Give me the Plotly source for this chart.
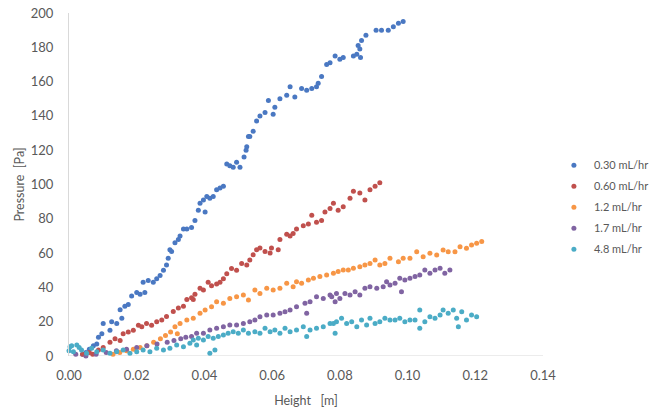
import plotly.graph_objects as go

series_names = ["0.30 mL/hr", "0.60 mL/hr", "1.2 mL/hr", "1.7 mL/hr", "4.8 mL/hr"]
series_colors = ["#4A78C2", "#C0504D", "#F79646", "#8064A2", "#4BACC6"]

x_030 = [0.0040, 0.0050, 0.0060, 0.0072, 0.0082, 0.0087, 0.0097, 0.0101, 0.0121, 0.0126, 0.0141, 0.0151,
         0.0156, 0.0165, 0.0175, 0.0185, 0.0200, 0.0210, 0.0219, 0.0224, 0.0234, 0.0249, 0.0259, 0.0269,
         0.0279, 0.0288, 0.0293, 0.0298, 0.0303, 0.0313, 0.0323, 0.0328, 0.0338, 0.0348, 0.0362, 0.0372,
         0.0382, 0.0387, 0.0397, 0.0402, 0.0407, 0.0416, 0.0426, 0.0436, 0.0446, 0.0456, 0.0466, 0.0475,
         0.0485, 0.0495, 0.0505, 0.0517, 0.0523, 0.0525, 0.0530, 0.0534, 0.0544, 0.0554, 0.0564, 0.0579,
         0.0589, 0.0603, 0.0608, 0.0623, 0.0643, 0.0653, 0.0667, 0.0687, 0.0702, 0.0717, 0.0731, 0.0736,
         0.0746, 0.0761, 0.0771, 0.0786, 0.0800, 0.0810, 0.0840, 0.0850, 0.0854, 0.0859, 0.0861, 0.0864,
         0.0877, 0.0907, 0.0923, 0.0943, 0.0958, 0.0973, 0.0987]
y_030 = [1, 2, 4, 6, 7, 11, 13, 19, 15, 20, 19, 27,
         22, 29, 30, 35, 37, 36, 43, 37, 44, 43, 45, 47,
         50, 53, 57, 62, 61, 66, 68, 70, 74, 74, 75, 79,
         85, 89, 91, 84, 93, 92, 93, 97, 98, 99, 112, 111,
         110, 113, 110, 116, 120, 122, 128, 128, 131, 137, 140, 142,
         149, 141, 145, 150, 152, 157, 151, 156, 155, 156, 157, 159,
         163, 170, 171, 175, 173, 174, 175, 176, 181, 179, 174, 184,
         187, 190, 190, 190, 192, 194, 195]

x_060 = [0.0040, 0.0060, 0.0070, 0.0087, 0.0101, 0.0121, 0.0136, 0.0151, 0.0160, 0.0175, 0.0190, 0.0205,
         0.0215, 0.0229, 0.0244, 0.0259, 0.0274, 0.0288, 0.0308, 0.0323, 0.0338, 0.0348, 0.0362, 0.0367,
         0.0372, 0.0387, 0.0397, 0.0411, 0.0421, 0.0436, 0.0446, 0.0456, 0.0466, 0.0480, 0.0495, 0.0510,
         0.0525, 0.0534, 0.0544, 0.0554, 0.0564, 0.0579, 0.0594, 0.0598, 0.0618, 0.0623, 0.0643, 0.0653,
         0.0662, 0.0672, 0.0692, 0.0707, 0.0717, 0.0731, 0.0746, 0.0756, 0.0771, 0.0781, 0.0795, 0.0810,
         0.0830, 0.0840, 0.0859, 0.0874, 0.0889, 0.0904, 0.0918]
y_060 = [1, 2, 1, 3.5, 5, 8, 10, 9, 13, 14, 15, 18,
         17, 19, 18, 20, 21, 23, 26, 28, 29, 33, 34, 33,
         36, 39.5, 38.5, 43, 41, 42, 43, 45, 48, 51, 50, 54,
         53, 56, 59, 62, 63, 61, 60, 63, 62, 68, 71, 70,
         71.5, 74, 76, 77, 82, 78, 79, 84, 86, 89, 85, 87,
         92, 96, 95, 91, 97, 99, 101]

x_12 = [0.0130, 0.0150, 0.0170, 0.0190, 0.0210, 0.0230, 0.0250, 0.0270, 0.0285, 0.0300, 0.0313, 0.0320,
        0.0328, 0.0348, 0.0367, 0.0387, 0.0402, 0.0421, 0.0436, 0.0456, 0.0475, 0.0495, 0.0515, 0.0530,
        0.0549, 0.0564, 0.0584, 0.0603, 0.0623, 0.0643, 0.0662, 0.0672, 0.0687, 0.0707, 0.0722, 0.0741,
        0.0761, 0.0781, 0.0795, 0.0810, 0.0825, 0.0840, 0.0859, 0.0874, 0.0889, 0.0904, 0.0918, 0.0933,
        0.0948, 0.0973, 0.0987, 0.1007, 0.1027, 0.1046, 0.1066, 0.1086, 0.1105, 0.1120, 0.1140, 0.1155,
        0.1174, 0.1189, 0.1204, 0.1219]
y_12 = [1, 2, 3, 4, 5, 6, 8, 10, 12, 14, 17, 13,
        19, 21, 22, 24.9, 26.8, 28.7, 31.7, 30.7, 33.6, 34.6, 35.6, 32.7,
        38.5, 36.5, 39.5, 38.5, 39.5, 42.4, 40.4, 43.3, 42.4, 44.3, 45.3, 46.3,
        47.2, 48.2, 49.2, 50.1, 50.1, 51.1, 52.1, 53.1, 54, 56, 53.1, 54,
        57, 55, 57, 57, 60.8, 57.9, 59.9, 58.9, 61.8, 60.8, 60.8, 63.7,
        62.8, 64.7, 65.7, 66.7]

x_17 = [0.0020, 0.0050, 0.0080, 0.0110, 0.0140, 0.0170, 0.0200, 0.0230, 0.0260, 0.0290, 0.0310, 0.0330,
        0.0345, 0.0362, 0.0377, 0.0397, 0.0416, 0.0436, 0.0456, 0.0475, 0.0495, 0.0515, 0.0534, 0.0549,
        0.0564, 0.0584, 0.0603, 0.0623, 0.0638, 0.0653, 0.0672, 0.0697, 0.0702, 0.0712, 0.0731, 0.0751,
        0.0771, 0.0776, 0.0786, 0.0790, 0.0800, 0.0815, 0.0830, 0.0845, 0.0859, 0.0874, 0.0889, 0.0909,
        0.0928, 0.0938, 0.0948, 0.0963, 0.0977, 0.0982, 0.0992, 0.1007, 0.1022, 0.1036, 0.1051, 0.1066,
        0.1081, 0.1096, 0.1110, 0.1125]
y_17 = [1, 0, 1, 2, 3, 4, 5, 6, 7, 8, 9, 10,
        11, 11.3, 13.2, 13.2, 15.2, 16.2, 17.1, 18.1, 18.1, 19, 20, 21,
        22.9, 23.9, 23.9, 24.9, 25.8, 26.8, 28.7, 30.7, 24.9, 31.7, 34.6, 33.6,
        35.6, 34.6, 31.7, 36.5, 33.6, 36.5, 35.6, 37.5, 35.6, 39.5, 40.4, 39.5,
        40.4, 43.3, 41.4, 42.4, 45.3, 37.5, 44.3, 45.3, 46.3, 47.2, 50.1, 48.2,
        50.1, 51.1, 48.2, 50.1]

x_48 = [0.0000, 0.0003, 0.0008, 0.0013, 0.0023, 0.0030, 0.0037, 0.0052, 0.0067, 0.0082, 0.0101, 0.0121,
        0.0141, 0.0160, 0.0180, 0.0200, 0.0219, 0.0239, 0.0259, 0.0279, 0.0298, 0.0318, 0.0338, 0.0357,
        0.0367, 0.0377, 0.0382, 0.0397, 0.0411, 0.0416, 0.0426, 0.0431, 0.0441, 0.0456, 0.0470, 0.0485,
        0.0500, 0.0515, 0.0530, 0.0549, 0.0564, 0.0579, 0.0594, 0.0608, 0.0623, 0.0638, 0.0653, 0.0672,
        0.0692, 0.0702, 0.0712, 0.0731, 0.0751, 0.0771, 0.0781, 0.0786, 0.0790, 0.0805, 0.0820, 0.0835,
        0.0850, 0.0864, 0.0879, 0.0889, 0.0904, 0.0918, 0.0933, 0.0948, 0.0963, 0.0977, 0.0992, 0.1007,
        0.1022, 0.1036, 0.1036, 0.1051, 0.1066, 0.1081, 0.1096, 0.1105, 0.1120, 0.1135, 0.1145, 0.1150,
        0.1160, 0.1174, 0.1189, 0.1204]
y_48 = [3, 5.4, 6, 2.5, 6.4, 5, 3.5, 1.6, 4.5, 2.5, 3.5, 1.6,
        2.5, 3.5, 1.6, 2.5, 3.5, 2.5, 4.5, 3.5, 4.5, 6.4, 5.4, 7.4,
        9.3, 6.4, 10.3, 9.3, 11.3, 1.6, 10.3, 3.5, 11.3, 12.2, 13.2, 14.2,
        13.2, 15.2, 13.2, 14.2, 13.2, 16.2, 14.2, 15.2, 13.2, 16.2, 14.2, 15.2,
        17.1, 11.3, 15.2, 16.2, 17.1, 19, 19, 13.2, 20, 22, 19, 20,
        17.1, 21, 18.1, 22, 19, 20, 22, 21, 21, 22, 20, 21,
        21, 16.2, 26.8, 20, 22.9, 22, 23.9, 26.8, 24.9, 26.8, 22, 17.1,
        25.8, 21, 23.9, 22.9]

xs = [x_030, x_060, x_12, x_17, x_48]
ys = [y_030, y_060, y_12, y_17, y_48]

x_ticks = [0.00, 0.02, 0.04, 0.06, 0.08, 0.10, 0.12, 0.14]
x_tick_labels = ["0.00", "0.02", "0.04", "0.06", "0.08", "0.10", "0.12", "0.14"]
y_ticks = [0, 20, 40, 60, 80, 100, 120, 140, 160, 180, 200]

fig = go.Figure()
for i, name in enumerate(series_names):
    fig.add_trace(go.Scatter(
        x=xs[i], y=ys[i], mode="markers", name=name,
        marker=dict(size=5, color=series_colors[i]),
        cliponaxis=False, legendgroup=name,
    ))

font_family = "Lato, 'Open Sans', sans-serif"
fig.update_layout(
    width=652, height=412,
    margin=dict(l=69, r=109, t=13, b=56, autoexpand=False),
    paper_bgcolor="white", plot_bgcolor="white",
    font=dict(family=font_family, color="#595959", size=12),
    showlegend=True,
    legend=dict(x=1.023, y=0.434, xanchor="left", yanchor="middle",
                font=dict(size=11, color="#595959"), itemwidth=30,
                tracegroupgap=2, bgcolor="rgba(0,0,0,0)"),
)
fig.update_xaxes(
    range=[0, 0.14], tickvals=x_ticks, ticktext=x_tick_labels,
    showgrid=False, zeroline=False, showline=False, automargin=False,
    ticks="", ticklabelstandoff=10, tickfont=dict(size=13, color="#595959"),
    title=dict(text="Height\u00a0\u00a0\u00a0[m]", font=dict(size=12.5, color="#595959"), standoff=14),
)
fig.update_yaxes(
    range=[0, 200], tickvals=y_ticks, automargin=False,
    showgrid=False, zeroline=False, showline=True, linecolor="#D9D9D9", linewidth=1,
    ticks="", ticklabelstandoff=12, tickfont=dict(size=13, color="#595959"),
    title=dict(text="Pressure\u00a0\u00a0[Pa]", font=dict(size=12.5, color="#595959"), standoff=3),
)
fig.add_shape(type="line", xref="x", yref="y", x0=0, x1=0.14, y0=0, y1=0,
              line=dict(color="#D9D9D9", width=1), layer="below")

fig.write_html("out.html", config={"displayModeBar": False},
               post_script="document.body.style.margin='0';document.body.style.overflow='hidden';")
